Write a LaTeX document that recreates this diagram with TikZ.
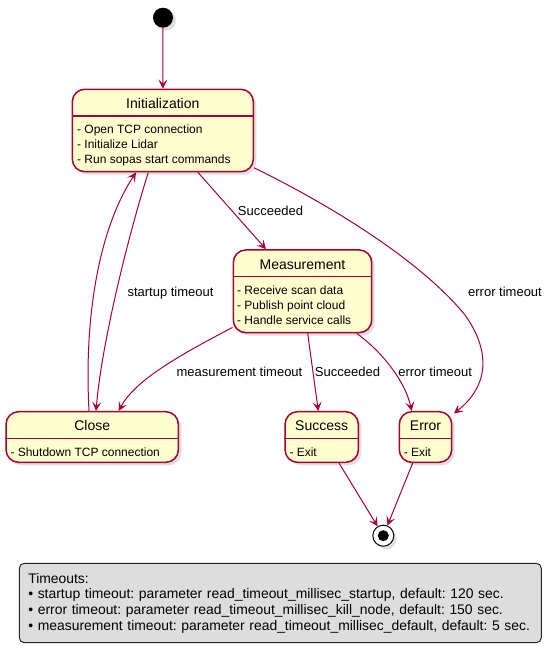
\documentclass[tikz,border=0pt]{standalone}
\usepackage{fontspec}
\setmainfont{Liberation Sans}
\usetikzlibrary{arrows.meta}
\usetikzlibrary{calc}
\usetikzlibrary{shadows}
\definecolor{stateBorder}{HTML}{A80036}
\definecolor{stateFill}{HTML}{FEFECE}
\definecolor{noteFill}{HTML}{DDDDDD}
\frenchspacing

\begin{document}
\begin{tikzpicture}[x=1pt, y=-1pt,
    >={Stealth[length=9pt,width=9pt,inset=4pt]},
    umlShadow/.style={drop shadow={shadow xshift=3pt, shadow yshift=-3pt, opacity=0.25}},
    stateBox/.style={draw=stateBorder, fill=stateFill, line width=1.5pt, rounded corners=12.5pt, inner sep=0pt, umlShadow},
    stateTitle/.style={inner sep=0pt, text height=10pt, text depth=0pt, font=\fontsize{14}{17}\selectfont},
    stateBody/.style={inner sep=0pt, align=left, font=\fontsize{12}{15}\selectfont},
    stateSep/.style={draw=stateBorder, line width=1.5pt},
    trans/.style={->, draw=stateBorder, line width=1pt},
    transLabel/.style={inner sep=0pt, text height=9.5pt, text depth=2.5pt, font=\fontsize{13}{16}\selectfont}]
  \useasboundingbox (0,0) rectangle (553,653);

  % start and end points
  \node[circle, fill=black, minimum size=20pt, inner sep=0pt, umlShadow] (start) at (163,17.7) {};
  \node[circle, draw=black, fill=white, line width=1pt, minimum size=21pt, inner sep=0pt, umlShadow] (stop) at (383.3,535.7) {};
  \node[circle, fill=black, minimum size=11pt, inner sep=0pt] (stopDot) at (stop) {};

  % states
  \node[stateBox, minimum width=181pt, minimum height=82.4pt] (init) at (162.8,130.5) {};
  \node[stateBox, minimum width=138.4pt, minimum height=82.7pt] (meas) at (302.5,291.3) {};
  \node[stateBox, minimum width=172.3pt, minimum height=50.6pt] (close) at (92.2,437) {};
  \node[stateBox, minimum width=73.3pt, minimum height=50.6pt] (success) at (321.7,437) {};
  \node[stateBox, minimum width=52.4pt, minimum height=50.6pt] (error) at (425.5,437) {};
  \foreach \s in {init,meas,close,success,error}
    \draw[stateSep] ($(\s.north west)+(0,27.4)$) -- ($(\s.north east)+(0,27.4)$);

  \node[stateTitle] (initTitle) at ($(init.north)+(0,15)$) {Initialization};
  \node[stateBody, anchor=north west] (initBody) at ($(init.north west)+(5.4,36.2)$)
    {- Open TCP connection\\- Initialize Lidar\\- Run sopas start commands};
  \node[stateTitle] (measTitle) at ($(meas.north)+(0,15)$) {Measurement};
  \node[stateBody, anchor=north west] (measBody) at ($(meas.north west)+(4.4,36.2)$)
    {- Receive scan data\\- Publish point cloud\\- Handle service calls};
  \node[stateTitle] (closeTitle) at ($(close.north)+(0,15)$) {Close};
  \node[stateBody, anchor=north west] (closeBody) at ($(close.north west)+(5,36.2)$) {- Shutdown TCP connection};
  \node[stateTitle] (successTitle) at ($(success.north)+(0,15)$) {Success};
  \node[stateBody, anchor=north west] (successBody) at ($(success.north west)+(5,36.2)$) {- Exit};
  \node[stateTitle] (errorTitle) at ($(error.north)+(0,15)$) {Error};
  \node[stateBody, anchor=north west] (errorBody) at ($(error.north west)+(5,36.2)$) {- Exit};

  % transitions
  \draw[trans] (start) -- (init);
  \draw[trans] ([xshift=35.2pt]init.south) -- ([xshift=-36.5pt]meas.north);
  \draw[trans] ([xshift=-14.5pt]init.south) .. controls (130,230) and (102,340) .. ([xshift=3.8pt]close.north);
  \draw[trans] ([xshift=-3.2pt]close.north) .. controls (84,320) and (98,230) .. ([xshift=-26.8pt]init.south);
  \draw[trans] ([yshift=6pt]meas.south west) .. controls (180,355) and (135,380) .. ([xshift=26.5pt]close.north);
  \draw[trans] ([xshift=5.2pt]meas.south) -- ([xshift=-3.4pt]success.north);
  \draw[trans] ([xshift=54.2pt]meas.south) .. controls (380,350) and (405,380) .. ([xshift=-13.8pt]error.north);
  \draw[trans] ([yshift=4.7pt]init.south east) .. controls (330,205) and (420,260) .. (465,315)
    .. controls (490,350) and (490,385) .. ([xshift=1.5pt,yshift=-2.5pt]error.north east);
  \draw[trans] ([xshift=17.3pt]success.south) -- (stop);
  \draw[trans] ([xshift=-12.8pt]error.south) -- (stop);

  % transition labels
  \node[transLabel] (lblSucceeded) at (270.5,211.7) {Succeeded};
  \node[transLabel] (lblStartup) at (170.5,292.7) {startup timeout};
  \node[transLabel] (lblErrorInit) at (505,292.7) {error timeout};
  \node[transLabel] (lblMeasTimeout) at (239.5,372.7) {measurement timeout};
  \node[transLabel] (lblSuccess) at (347.5,372.7) {Succeeded};
  \node[transLabel] (lblErrorMeas) at (435.2,372.7) {error timeout};

  % legend
  \node[draw=black!85, fill=noteFill, line width=1pt, rounded corners=5pt, minimum width=522pt, minimum height=79.4pt,
    text width=504pt, inner xsep=9pt, align=left, font=\fontsize{13.9}{15.6}\selectfont] (legend) at (280.3,603)
    {Timeouts:\\
     • startup timeout: parameter read\_timeout\_millisec\_startup, default: 120 sec.\\
     • error timeout: parameter read\_timeout\_millisec\_kill\_node, default: 150 sec.\\
     • measurement timeout: parameter read\_timeout\_millisec\_default, default: 5 sec.};
\end{tikzpicture}
\end{document}
